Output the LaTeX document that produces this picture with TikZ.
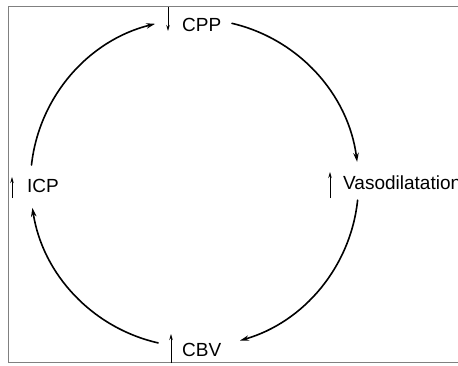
\documentclass[tikz,border=0pt]{standalone}
\usepackage{fontspec}
\setmainfont{Liberation Sans}
\usetikzlibrary{arrows.meta}
\begin{document}
\begin{tikzpicture}[x=1pt,y=1pt,
  lbl/.style={inner sep=0pt, anchor=base west, font=\fontsize{19}{22}\selectfont},
  cyc/.style={line width=1.6pt, line cap=round, -{Stealth[length=9pt,width=5.5pt]}},
  trend/.style={line width=0.8pt, -{Stealth[length=6pt,width=3.5pt]}},
  frame/.style={draw=black!50, line width=1.4pt}]
\useasboundingbox (0,0) rectangle (458,365);
\clip (0,0) rectangle (458,365);

% open frame (its right side lies beyond the page)
\draw[frame] (470,358.5) -- (8.5,358.5) -- (8.5,2.5) -- (470,2.5);

% labels
\node[lbl] (cpp)  at (182,333) {CPP};
\node[lbl] (vaso) at (343,176) {Vasodilatation};
\node[lbl] (icp)  at (27,173)  {ICP};
\node[lbl] (cbv)  at (182,9)   {CBV};

% trend arrows beside the labels
\coordinate (cppA) at (168,358);  \coordinate (cppB) at (168,334);
\coordinate (vasA) at (330,167);  \coordinate (vasB) at (330,193);
\coordinate (icpA) at (12,167);   \coordinate (icpB) at (12,188);
\coordinate (cbvA) at (171,2);    \coordinate (cbvB) at (171,31);
\draw[trend] (cppA) -- (cppB);
\draw[trend] (vasA) -- (vasB);
\draw[trend] (icpA) -- (icpB);
\draw[trend] (cbvA) -- (cbvB);

% the vicious cycle
\coordinate (c) at (194.5,182);
\def\R{164}
\draw[cyc] ([shift={(173.7:\R)}]c) arc[start angle=173.7, end angle=103.9, radius=\R];
\draw[cyc] ([shift={(76.8:\R)}]c)  arc[start angle=76.8,  end angle=7.4,   radius=\R];
\draw[cyc] ([shift={(-6:\R)}]c)    arc[start angle=-6,    end angle=-73.9, radius=\R];
\draw[cyc] ([shift={(-102.8:\R)}]c) arc[start angle=-102.8, end angle=-171.3, radius=\R];
\end{tikzpicture}
\end{document}
